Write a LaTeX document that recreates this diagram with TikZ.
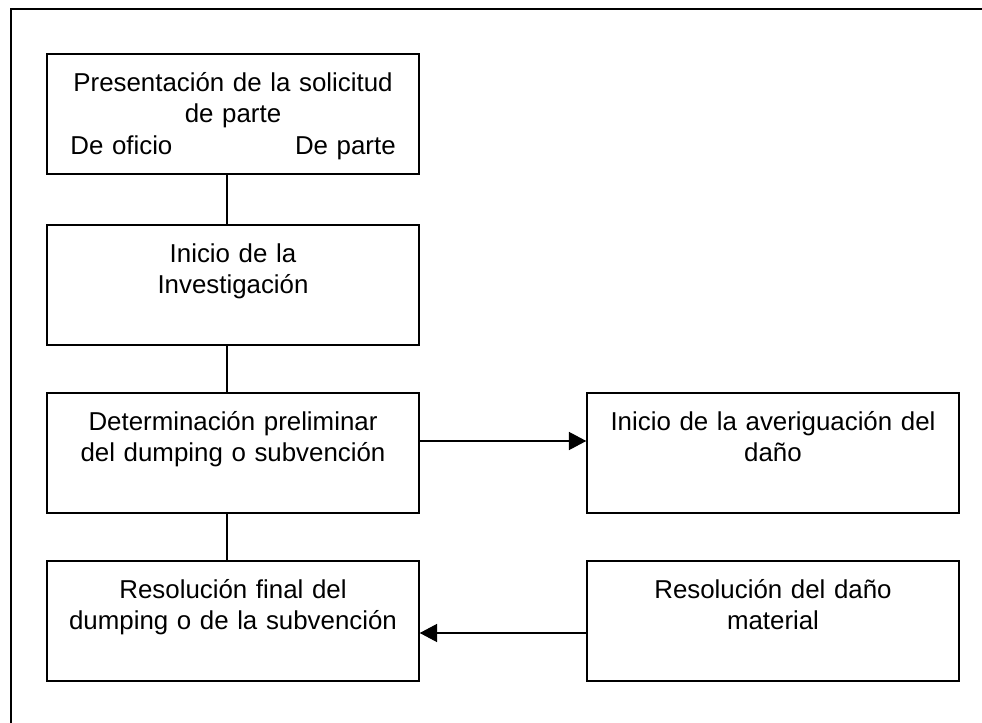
\documentclass[tikz,border=0pt]{standalone}
\usepackage{fontspec}
\setmainfont{Liberation Sans}
\usetikzlibrary{arrows.meta,positioning}
\begin{document}
\begin{tikzpicture}[x=0.75pt, y=-0.75pt,
    caja/.style={draw, line width=1.1pt, minimum width=279pt, minimum height=90pt, inner sep=0pt},
    texto/.style={anchor=base, align=center, text width=262pt, inner sep=0pt, font=\fontsize{19.4}{23.7}\selectfont},
    flecha/.style={line width=1.1pt, -{Triangle[length=13pt, width=13.5pt]}}]
  \useasboundingbox (0,0) rectangle (982,723);
  % marco
  \draw[line width=1.5pt] (11,723) -- (11,9) -- (982,9);
  % cajas
  \node[caja] (b1) at (233,114) {};
  \node[caja] (b2) at (233,285) {};
  \node[caja] (b3) at (233,453) {};
  \node[caja] (b4) at (773,453) {};
  \node[caja] (b5) at (233,621) {};
  \node[caja] (b6) at (773,621) {};
  % textos
  \node[texto, text width=244pt] (t1) at ([yshift=-28.5pt]b1.north) {Presentación de la solicitud\\ de parte\\ De oficio\hfill De parte};
  \node[texto] (t2) at ([yshift=-28.5pt]b2.north) {Inicio de la\\ Investigación};
  \node[texto] (t3) at ([yshift=-28.5pt]b3.north) {Determinación preliminar\\ del dumping o subvención};
  \node[texto] (t4) at ([yshift=-28.5pt]b4.north) {Inicio de la averiguación del\\ daño};
  \node[texto] (t5) at ([yshift=-28.5pt]b5.north) {Resolución final del\\ dumping o de la subvención};
  \node[texto] (t6) at ([yshift=-28.5pt]b6.north) {Resolución del daño\\ material};
  % conectores
  \foreach \i/\j in {b1/b2, b2/b3, b3/b5}
    \draw[line width=1.1pt] ([xshift=-4.5pt]\i.south) -- ([xshift=-4.5pt]\j.north);
  \draw[flecha] ([yshift=9pt]b3.east) -- ([yshift=9pt]b4.west);
  \draw[flecha] ([yshift=-9pt]b6.west) -- ([yshift=-9pt]b5.east);
\end{tikzpicture}
\end{document}
